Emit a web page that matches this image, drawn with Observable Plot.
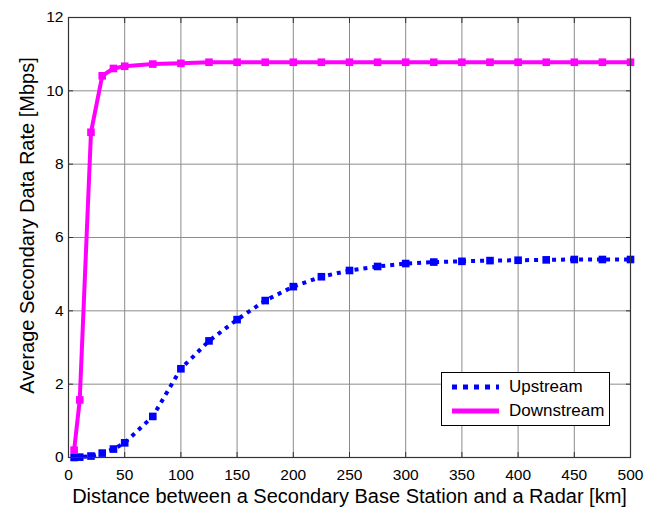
<!DOCTYPE html>
<html>
<head>
<meta charset="utf-8">
<script src="https://cdn.jsdelivr.net/npm/d3@7"></script>
<script src="https://cdn.jsdelivr.net/npm/@observablehq/plot@0.6"></script>
<style>
  html, body { margin: 0; padding: 0; background: #fff; }
  #wrap { position: relative; width: 655px; height: 508px; font-family: "Liberation Sans", Arial, sans-serif; }
  #legend { position: absolute; left: 441px; top: 372px; width: 167px; height: 52px; border: 1px solid #000; background: #fff; }
  #legend .row { position: absolute; left: 0; height: 20px; display: flex; align-items: center; font-size: 17px; color: #000; }
  #legend svg { margin-left: 10px; margin-right: 10px; }
</style>
</head>
<body>
<div id="wrap"><div id="legend"></div></div>
<script>
// Distances [km]
const distUp = [5, 10, 20, 30, 40, 50, 75, 100, 125, 150, 175, 200, 225, 250, 275, 300, 325, 350, 375, 400, 425, 450, 475, 500];
const upstream = [0.0, 0.01, 0.04, 0.12, 0.23, 0.4, 1.12, 2.42, 3.18, 3.76, 4.28, 4.66, 4.93, 5.1, 5.21, 5.29, 5.33, 5.35, 5.37, 5.38, 5.39, 5.4, 5.4, 5.4];
const distDown = [5, 10, 20, 30, 40, 50, 75, 100, 125, 150, 175, 200, 225, 250, 275, 300, 325, 350, 375, 400, 425, 450, 475, 500];
const downstream = [0.2, 1.57, 8.87, 10.41, 10.61, 10.67, 10.73, 10.75, 10.78, 10.78, 10.78, 10.78, 10.78, 10.78, 10.78, 10.78, 10.78, 10.78, 10.78, 10.78, 10.78, 10.78, 10.78, 10.78];
const xTicks = [0, 50, 100, 150, 200, 250, 300, 350, 400, 450, 500];
const yTicks = [0, 2, 4, 6, 8, 10, 12];
const seriesNames = ["Upstream", "Downstream"];
const colors = ["#0000ff", "#ff00ff"];
const xLabel = "Distance between a Secondary Base Station and a Radar [km]";
const yLabel = "Average Secondary Data Rate [Mbps]";

const upData = distUp.map((d, i) => ({x: d, y: upstream[i]}));
const downData = distDown.map((d, i) => ({x: d, y: downstream[i]}));

const chart = Plot.plot({
  width: 655,
  height: 508,
  marginLeft: 68,
  marginRight: 25,
  marginTop: 17,
  marginBottom: 51,
  style: {background: "#fff", fontFamily: "'Liberation Sans', Arial, sans-serif", fontSize: "15.5px", color: "#000"},
  x: {domain: [0, 500]},
  y: {domain: [0, 12]},
  marks: [
    Plot.gridX(xTicks, {stroke: "#8c8c8c", strokeOpacity: 1, strokeWidth: 1}),
    Plot.gridY(yTicks, {stroke: "#8c8c8c", strokeOpacity: 1, strokeWidth: 1}),
    Plot.axisX(xTicks, {anchor: "bottom", tickSize: -5, tickPadding: 16, stroke: "#333", label: null, fontSize: 15.5}),
    Plot.axisX(xTicks, {anchor: "top", tickSize: -5, stroke: "#333", tickFormat: () => "", label: null}),
    Plot.axisY(yTicks, {anchor: "left", tickSize: -5, tickPadding: 10, stroke: "#333", label: null, fontSize: 15.5}),
    Plot.axisY(yTicks, {anchor: "right", tickSize: -5, stroke: "#333", tickFormat: () => "", label: null}),
    Plot.text([xLabel], {frameAnchor: "bottom", dy: 39, fontSize: 20, lineAnchor: "middle", fill: "#000"}),
    Plot.text([yLabel], {frameAnchor: "left", dx: -41, dy: -12, rotate: -90, fontSize: 20, textAnchor: "middle", lineAnchor: "middle", fill: "#000"}),
    Plot.line(upData, {x: "x", y: "y", stroke: colors[0], strokeWidth: 4, strokeDasharray: "4,5", strokeLinecap: "butt"}),
    Plot.dot(upData, {x: "x", y: "y", symbol: "square", r: 4.3, fill: colors[0], stroke: null}),
    Plot.line(downData, {x: "x", y: "y", stroke: colors[1], strokeWidth: 4}),
    Plot.dot(downData, {x: "x", y: "y", symbol: "square", r: 4.3, fill: colors[1], stroke: null}),
    Plot.frame({stroke: "#333", strokeWidth: 1.2})
  ]
});
document.getElementById("wrap").prepend(chart);

// legend
const legend = document.getElementById("legend");
seriesNames.forEach((name, i) => {
  const row = document.createElement("div");
  row.className = "row";
  row.style.top = (i === 0 ? 4 : 28) + "px";
  const dash = i === 0 ? 'stroke-dasharray="5,6"' : "";
  row.innerHTML = `<svg width="47" height="10"><line x1="0" y1="5" x2="47" y2="5" stroke="${colors[i]}" stroke-width="5" ${dash}/></svg><span>${name}</span>`;
  legend.appendChild(row);
});
</script>
</body>
</html>
